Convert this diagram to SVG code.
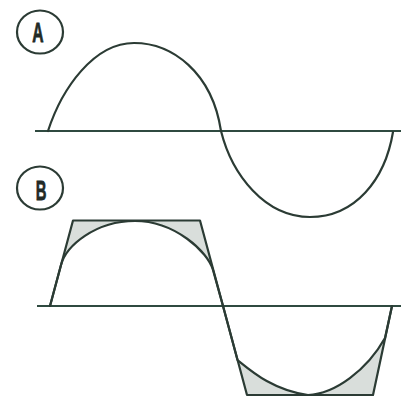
<svg xmlns="http://www.w3.org/2000/svg" width="401" height="397" viewBox="0 0 401 397">
<style>
.ln{fill:none;stroke:#2b3b34;stroke-width:2.2;stroke-linecap:round;stroke-linejoin:round}
.ax{fill:none;stroke:#2f4a40;stroke-width:2}
.sh{fill:#d9dedb;stroke:none}
.wh{fill:#ffffff;stroke:none}
.lbl{font-family:"Liberation Sans",Arial,sans-serif;font-weight:bold;font-size:27px;fill:#222a26;stroke:#222a26;stroke-width:0.8}
.ring{fill:none;stroke:#2b3b34;stroke-width:2.2}
</style>
<rect width="401" height="397" fill="#ffffff"/>
<g id="labelA">
<ellipse class="ring" cx="40" cy="32" rx="23" ry="21.5"/>
<text class="lbl" transform="translate(38 42) scale(0.58 1)" text-anchor="middle">A</text>
</g>
<g id="labelB">
<ellipse class="ring" cx="40" cy="188" rx="23" ry="21.5"/>
<text class="lbl" transform="translate(41 200) scale(0.55 1)" text-anchor="middle">B</text>
</g>
<g id="waveA">
<line class="ax" x1="35" y1="131" x2="401" y2="131"/>
<path class="ln" d="M48,131 C62,88 94,43 134,43 C172,43 212,72 221,131 C232,175 265,217 310,217 C355,217 385,180 393,132"/>
</g>
<g id="waveB">
<polygon class="sh" points="50,306 73,220.5 200,220.5 223,306"/>
<polygon class="sh" points="223,306 247,395 373,395 392,306"/>
<path class="wh" d="M50,306 L61,265 C66,246 95,221 135,221 C175,221 208,252 213,270 L223,306 Z"/>
<path class="wh" d="M223,306 L237.5,360 C250,370 272,390 308,395 C335,394 367,370 385,338 L392,306 Z"/>
<line class="ax" x1="37" y1="306" x2="401" y2="306"/>
<polyline class="ln" points="50,306 73,220.5 200,220.5 247,395 373,395 392,306"/>
<path class="ln" d="M50,306 L61,265 C66,246 95,221 135,221 C175,221 208,252 213,270 L223,306 L237.5,360 C250,370 272,390 308,395 C335,394 367,370 385,338 L392,306"/>
</g>
</svg>
